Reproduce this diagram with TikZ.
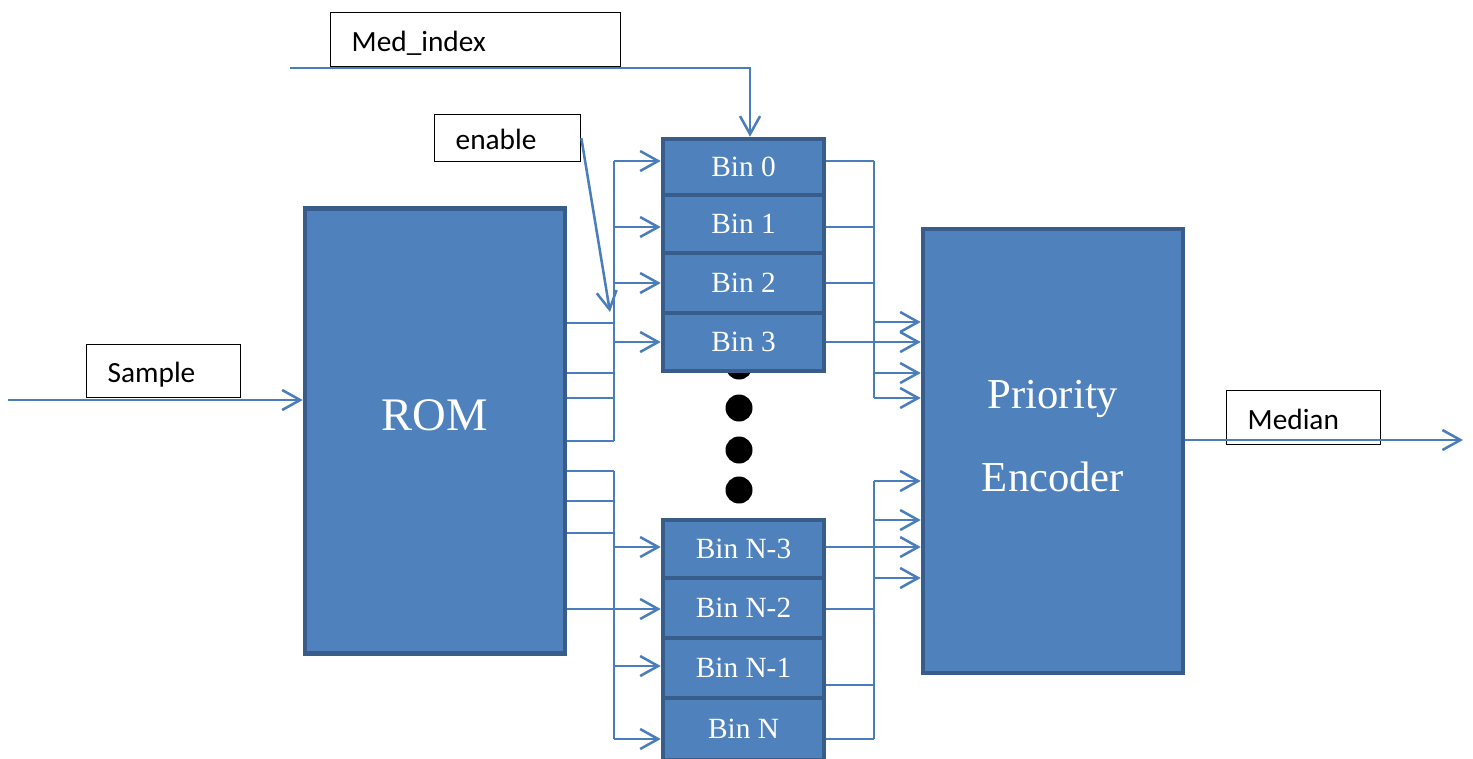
\documentclass[tikz,border=0pt]{standalone}
\usepackage{fontspec}
\setmainfont{Liberation Serif}
\newfontfamily\lblfont{Carlito}
\usetikzlibrary{arrows.meta,calc}
\definecolor{boxfill}{HTML}{4F81BD}
\definecolor{boxline}{HTML}{385D8A}
\definecolor{wirecol}{HTML}{4A7EBB}
\begin{document}
\begin{tikzpicture}[x=0.75pt,y=-0.75pt,
 block/.style={draw=boxline, fill=boxfill, line width=3.4pt, inner sep=0pt},
 bin/.style={block, minimum width=120.75pt, text=white, font=\fontsize{22}{26}\selectfont},
 lbl/.style={draw=black, line width=1pt, inner ysep=0pt, inner xsep=15.75pt, anchor=north west, font=\lblfont\fontsize{22}{26}\selectfont, align=left, text height=21.5pt, text depth=4.5pt},
 wire/.style={draw=wirecol, line width=1.9pt},
 arr/.style={wire, -{Straight Barb[length=13.5pt,width=15pt]}},
 bigdot/.style={circle, fill=black, minimum size=20.25pt, inner sep=0pt}
]
\useasboundingbox (0,0) rectangle (1473,758);

% dots
\node[bigdot] (d0) at (739,366) {};
\node[bigdot] (d1) at (739,408) {};
\node[bigdot] (d2) at (739,450) {};
\node[bigdot] (d3) at (739,490) {};

% main blocks
\node[block, minimum width=195pt, minimum height=333.75pt] (rom) at (435,431) {};
\node[text=white, font=\fontsize{35}{40}\selectfont] (romT) at (435,415) {ROM};
\node[block, minimum width=195pt, minimum height=333pt] (enc) at (1053,451) {};
\node[text=white, font=\fontsize{32}{62.25}\selectfont, align=center] (encT) at (1053,436) {Priority\\Encoder};

% bins
\node[bin, minimum height=42pt] (b0) at (743.5,167) {Bin 0};
\node[bin, minimum height=43.5pt] (b1) at (743.5,224) {Bin 1};
\node[bin, minimum height=45pt] (b2) at (743.5,283) {Bin 2};
\node[bin, minimum height=43.5pt] (b3) at (743.5,342) {Bin 3};
\node[bin, minimum height=43.5pt] (bn3) at (743.5,549) {Bin N-3};
\node[bin, minimum height=45pt] (bn2) at (743.5,608) {Bin N-2};
\node[bin, minimum height=45pt] (bn1) at (743.5,668) {Bin N-1};
\node[bin, minimum height=46.5pt] (bn) at (743.5,729) {Bin N};

% labels
\node[lbl, minimum height=40.5pt, text width=186pt] (medlbl) at (330,12) {Med\_index};
\node[lbl, minimum height=35.25pt, text width=78pt] (enlbl) at (434,114) {enable};
\node[lbl, minimum height=39.75pt, text width=84pt] (samplbl) at (86,344) {Sample};
\node[lbl, minimum height=40.5pt, text width=84pt] (medianlbl) at (1226,390) {Median};

% left upper bus
\coordinate (lbt) at (614,161);
\coordinate (lbb) at (614,441);
\draw[wire] (lbt) -- (lbb);
\foreach \yy in {323,373,398,441} \draw[wire] (rom.east |- 0,\yy) -- (lbt |- 0,\yy);
\draw[arr] (lbt) -- (b0.west |- lbt);
\draw[arr] (lbt |- 0,227) -- (b1.west |- 0,227);
\draw[arr] (lbt |- 0,283) -- (b2.west |- 0,283);
\draw[arr] (lbt |- 0,342) -- (b3.west |- 0,342);

% left lower bus
\coordinate (llt) at (614,471);
\coordinate (llb) at (614,739);
\draw[wire] (llt) -- (llb);
\foreach \yy in {471,501,533} \draw[wire] (rom.east |- 0,\yy) -- (llt |- 0,\yy);
\draw[arr] (llt |- 0,547) -- (bn3.west |- 0,547);
\draw[arr] (rom.east |- 0,609) -- (bn2.west |- 0,609);
\draw[arr] (llt |- 0,666) -- (bn1.west |- 0,666);
\draw[arr] (llb) -- (bn.west |- llb);

% right upper bus
\coordinate (rbt) at (874,161);
\coordinate (rbb) at (874,398);
\draw[wire] (rbt) -- (rbb);
\draw[wire] (b0.east |- rbt) -- (rbt);
\draw[wire] (b1.east |- 0,227) -- (rbt |- 0,227);
\draw[wire] (b2.east |- 0,283) -- (rbt |- 0,283);
\draw[wire] (b3.east |- 0,342) -- (rbt |- 0,342);
\foreach \yy in {322,342,373,398} \draw[arr] (rbt |- 0,\yy) -- (enc.west |- 0,\yy);

% right lower bus
\coordinate (rlt) at (874,481);
\coordinate (rlb) at (874,739);
\draw[wire] (rlt) -- (rlb);
\draw[wire] (bn3.east |- 0,547) -- (rlt |- 0,547);
\draw[wire] (bn2.east |- 0,609) -- (rlt |- 0,609);
\draw[wire] (bn1.east |- 0,685) -- (rlt |- 0,685);
\draw[wire] (bn.east |- rlb) -- (rlb);
\foreach \yy in {481,520,547,578} \draw[arr] (rlt |- 0,\yy) -- (enc.west |- 0,\yy);

% Med_index
\coordinate (medstart) at (290,68);
\draw[arr] (medstart) -| ([xshift=4.9pt]b0.north);

% enable
\coordinate (entip) at (610,312);
\draw[arr] (enlbl.east) -- (entip);

% Sample
\coordinate (sampstart) at (8,400);
\draw[arr] (sampstart) -- (rom.west |- sampstart);

% Median
\coordinate (medend) at (1463,440);
\draw[arr] (enc.east |- medend) -- (medend);
\end{tikzpicture}
\end{document}
